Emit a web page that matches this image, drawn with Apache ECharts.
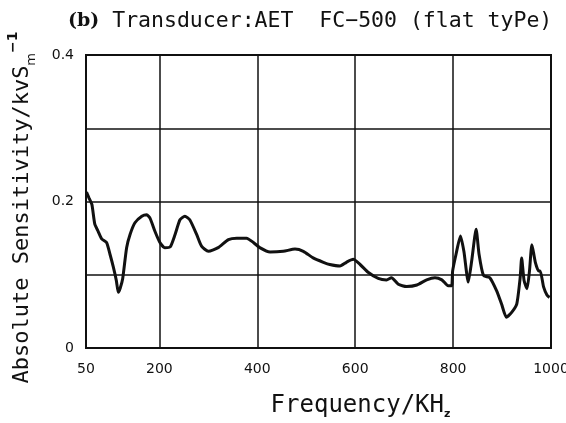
<!DOCTYPE html>
<html>
<head>
<meta charset="utf-8">
<title>Transducer AET FC-500</title>
<script src="https://cdn.jsdelivr.net/npm/echarts@6/dist/echarts.min.js"></script>
<style>
  html, body { margin: 0; padding: 0; background: #fff; }
  #chart { width: 566px; height: 423px; }
</style>
</head>
<body>
<div id="chart"></div>
<script>
// frequency (kHz)
const freq = [51, 56, 62, 68, 75, 82, 92, 99, 106, 112,
  116, 120, 125, 133, 140, 150, 164, 174, 181, 191,
  201, 211, 222, 232, 242, 252, 262, 276, 286, 300,
  320, 341, 358, 378, 392, 405, 426, 453, 477, 494,
  514, 535, 548, 569, 582, 596, 610, 627, 647, 664,
  674, 688, 705, 726, 746, 763, 777, 790, 797, 799,
  806, 815, 822, 831, 838, 847, 853, 862, 875, 889,
  899, 909, 920, 930, 937, 940, 945, 951, 956, 961,
  968, 975, 978, 985, 992, 997];

// absolute sensitivity (kv/S_m^-1)
const sens = [0.213, 0.205, 0.196, 0.169, 0.159, 0.149, 0.144, 0.128, 0.11, 0.092,
  0.076, 0.082, 0.095, 0.137, 0.155, 0.171, 0.18, 0.182, 0.177, 0.159,
  0.144, 0.137, 0.138, 0.155, 0.175, 0.18, 0.175, 0.155, 0.139, 0.132,
  0.137, 0.148, 0.15, 0.15, 0.144, 0.137, 0.131, 0.132, 0.135, 0.132,
  0.123, 0.117, 0.114, 0.112, 0.117, 0.121, 0.114, 0.103, 0.095, 0.093,
  0.096, 0.087, 0.084, 0.086, 0.093, 0.096, 0.093, 0.085, 0.085, 0.105,
  0.128, 0.153, 0.132, 0.09, 0.119, 0.162, 0.128, 0.099, 0.096, 0.078,
  0.06, 0.042, 0.049, 0.06, 0.096, 0.123, 0.092, 0.081, 0.105, 0.141,
  0.117, 0.105, 0.105, 0.083, 0.072, 0.069];

const xTicks = [50, 200, 400, 600, 800, 1000];
const yLabeled = [0, 0.2, 0.4];

const chart = echarts.init(document.getElementById('chart'));

const ink = '#111';
const font = '"DejaVu Sans", sans-serif';
// the original lettering is typewriter-like and widely spaced
const mono = '"DejaVu Sans Mono", monospace';

const option = {
  animation: false,
  title: {
    text: '{b|(b)} Transducer:AET  FC−500 (flat tyPe)',
    left: 63,
    top: 5,
    textStyle: {
      fontFamily: mono,
      fontSize: 21.5,
      fontWeight: 'normal',
      color: ink,
      rich: {
        b: { fontFamily: '"DejaVu Serif", serif', fontWeight: 'bold', fontSize: 19, color: ink }
      }
    }
  },
  grid: {
    left: 86,
    right: 15,
    top: 55,
    bottom: 75,
    containLabel: false,
    outerBoundsMode: 'none',
    show: true,
    borderColor: ink,
    borderWidth: 2
  },
  xAxis: {
    type: 'value',
    min: 50,
    max: 1000,
    name: '{t|Frequency/KH}{s|z}',
    nameLocation: 'middle',
    nameGap: 44,
    nameTextStyle: {
      padding: [0, 0, 0, 84],
      rich: {
        t: { fontFamily: mono, fontSize: 24, color: ink, lineHeight: 28 },
        s: { fontFamily: font, fontSize: 11, fontWeight: 'bold', color: ink, verticalAlign: 'bottom', lineHeight: 22 }
      }
    },
    axisLine: { show: false },
    axisTick: { show: false, customValues: xTicks },
    axisLabel: {
      customValues: xTicks,
      margin: 14,
      fontFamily: font,
      fontSize: 14,
      color: ink,
      formatter: function (v) { return String(v); }
    },
    splitLine: { show: true, lineStyle: { color: ink, width: 1.5 } }
  },
  yAxis: {
    type: 'value',
    min: 0,
    max: 0.4,
    interval: 0.1,
    name: '{t|Absolute Sensitivity/kvS}{s|m}{p|−1}',
    nameLocation: 'middle',
    nameRotate: 90,
    nameGap: 48,
    nameTextStyle: {
      padding: [0, 12, 0, 0],
      rich: {
        t: { fontFamily: mono, fontSize: 22, color: ink, lineHeight: 28 },
        s: { fontFamily: font, fontSize: 13, color: ink, verticalAlign: 'bottom', lineHeight: 22 },
        p: { fontFamily: font, fontSize: 14, fontWeight: 'bold', color: ink, verticalAlign: 'top', lineHeight: 32 }
      }
    },
    axisLine: { show: false },
    axisTick: { show: false },
    axisLabel: {
      margin: 12,
      fontFamily: font,
      fontSize: 14,
      color: ink,
      formatter: function (v) {
        const hit = yLabeled.find(function (y) { return Math.abs(y - v) < 1e-6; });
        if (hit === undefined) return '';
        return hit === 0 ? '0' : hit.toFixed(1);
      }
    },
    splitLine: { show: true, lineStyle: { color: ink, width: 1.5 } }
  },
  series: [{
    type: 'line',
    data: freq.map(function (f, i) { return [f, sens[i]]; }),
    showSymbol: false,
    smooth: 0.2,
    lineStyle: { color: ink, width: 3 }
  }]
};

chart.setOption(option);

window.addEventListener('resize', function () {
  chart.resize();
});
</script>
</body>
</html>
